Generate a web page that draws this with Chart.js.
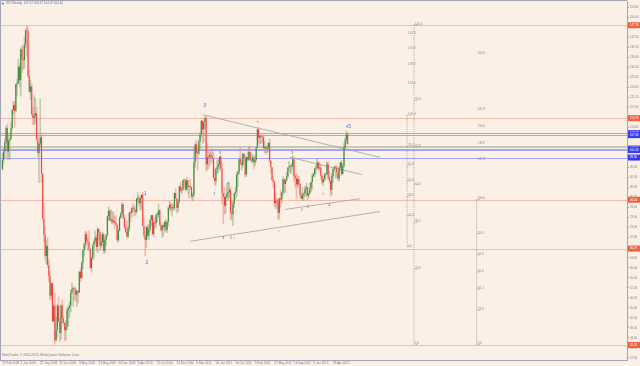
<!DOCTYPE html>
<html><head><meta charset="utf-8">
<script src="https://cdn.jsdelivr.net/npm/chart.js@4.4.1/dist/chart.umd.min.js"></script>
<style>html,body{margin:0;padding:0;background:#fbf0e5;}canvas{display:block;}</style>
</head><body>
<canvas id="c" width="640" height="366" style="width:640px;height:366px"></canvas>
<script>
// ---- Weekly WTI candles, bar 0 = week of 17 Feb 2008 ----
const opens = [
95.5,98.8,101.8,105.2,110.2,101.8,105.6,106.2,110.1,116.7,
118.5,116.3,126.0,126.3,132.2,127.4,138.5,134.9,134.6,140.2,
145.3,145.1,128.9,123.3,125.1,115.2,113.8,114.6,115.5,106.2,
101.2,104.6,106.9,94.0,77.7,71.9,64.2,67.8,61.0,57.0,
49.9,54.4,40.8,46.3,33.9,37.7,46.3,40.8,36.5,46.5,
41.7,40.2,37.5,38.9,44.8,45.5,46.3,51.1,52.4,52.5,
52.2,50.3,51.6,51.1,58.6,56.3,61.7,66.3,68.4,72.0,
69.6,69.2,66.7,59.9,63.6,68.1,69.5,70.9,67.5,73.9,
72.7,68.0,69.3,72.0,66.0,70.0,71.8,78.5,80.5,77.0,
77.4,76.4,76.7,76.1,75.5,69.9,73.4,78.1,79.4,82.8,
78.0,74.5,72.9,71.2,74.1,79.8,79.7,81.5,81.2,80.7,
80.0,84.9,84.9,83.2,85.1,86.2,75.1,71.6,70.0,74.6,
71.5,73.8,77.2,78.9,72.1,76.1,76.0,79.0,79.0,80.7,
75.4,73.5,75.2,74.6,76.5,73.7,76.5,81.6,82.7,81.3,
81.7,81.4,86.9,84.9,81.5,83.8,89.2,87.8,88.0,91.5,
91.4,88.0,91.5,89.1,89.3,89.0,85.6,86.2,97.9,104.4,
101.2,101.1,105.4,107.9,112.8,109.7,112.3,113.9,97.2,99.7,
99.5,100.6,100.2,99.3,92.3,91.2,95.4,96.2,97.2,99.9,
95.7,86.9,85.4,82.3,85.4,86.5,87.2,88.0,79.9,79.2,
83.0,86.8,87.4,93.3,94.3,99.0,97.7,96.8,101.0,99.4,
93.5,99.7,98.8,101.6,98.7,98.5,99.6,97.8,98.7,103.2,
109.8,106.7,107.4,107.1,106.9,103.0,103.3,102.8,103.1,104.9,
98.5,96.1,91.5,90.9,83.2,84.1,84.0,79.8,85.0,84.5,
87.1,91.8,90.1,91.4,92.9,96.0,96.2,96.5,96.4,99.0,
92.9,92.2,89.9,91.9,90.1,86.3,84.9,86.1,86.7,88.3,
88.9,85.9,86.7,88.7,90.8,93.1,93.6,95.6,95.9,97.8,
95.7,95.9,93.1,90.7,92.0,93.5,93.7,97.2,92.7,91.3,
88.0,93.0,95.6,96.0,96.0,94.2,92.0,96.0,97.9,93.7,
96.6,103.2,106.0,107.97];
const highs = [
101.3,103.0,106.5,111.0,111.8,108.0,106.5,112.2,117.0,119.9,
119.9,126.2,127.8,135.1,133.0,139.1,139.9,139.9,143.0,145.9,
147.3,146.5,131.2,127.6,126.1,118.0,122.0,121.0,117.8,108.0,
104.8,120.9,108.0,94.0,83.0,75.0,70.0,71.0,63.0,59.0,
55.0,54.5,47.0,51.0,42.5,47.0,49.6,42.0,46.5,48.6,
43.0,40.5,41.0,45.8,46.5,48.0,52.0,54.7,53.0,53.5,
52.9,52.0,52.0,58.8,60.0,62.3,66.5,69.0,73.2,73.0,
71.0,73.4,67.0,64.0,68.5,69.8,73.4,72.0,74.7,74.0,
73.0,72.0,72.9,72.5,71.0,72.0,78.8,82.0,81.0,81.0,
80.5,80.0,78.5,79.0,76.0,74.0,78.5,80.0,83.5,83.0,
79.0,75.5,77.0,75.0,80.0,80.5,82.0,83.2,82.5,82.0,
85.0,87.1,86.0,85.5,86.5,87.2,78.0,73.0,75.0,75.7,
75.5,77.5,79.0,79.0,76.5,78.0,79.5,80.0,83.0,81.0,
76.5,75.5,76.0,77.0,77.5,76.9,81.9,84.0,83.5,83.0,
83.0,87.0,88.6,85.0,84.5,89.5,90.8,89.0,91.6,92.0,
91.9,92.6,91.5,89.5,92.1,89.2,87.0,103.4,104.9,106.0,
103.0,106.0,108.5,113.0,113.0,112.5,114.0,114.8,104.6,102.0,
101.6,103.0,102.0,101.5,96.0,95.8,98.8,99.0,100.0,100.6,
98.0,87.0,89.0,86.5,90.5,90.0,90.5,88.9,84.0,84.0,
87.0,89.0,94.6,95.0,99.5,103.4,99.0,101.3,101.2,100.6,
100.0,101.8,103.7,103.3,101.5,100.8,100.0,100.4,103.4,110.0,
110.6,107.8,107.4,108.1,107.6,105.5,103.7,104.0,105.2,106.4,
98.5,96.1,93.0,91.5,87.0,85.0,85.0,85.0,88.0,87.2,
92.9,91.9,91.9,94.5,96.1,98.3,97.0,97.6,100.4,99.5,
93.5,94.0,93.3,93.0,90.5,87.0,89.0,87.0,89.5,89.2,
89.4,87.6,90.5,91.0,93.8,94.3,96.0,96.9,98.2,98.2,
98.0,97.0,93.5,92.0,93.9,94.0,97.8,97.9,94.8,91.4,
94.0,95.7,96.9,96.3,96.9,95.3,96.4,97.9,98.7,97.3,
104.8,106.9,109.3,108.57];
const lows = [
94.8,97.5,99.5,104.6,98.7,99.0,98.7,106.0,109.5,115.0,
110.5,116.0,121.6,126.1,125.0,121.6,130.0,131.0,131.6,139.0,
135.9,128.3,122.9,120.4,114.6,111.3,111.3,112.0,105.4,99.9,
90.5,103.5,90.5,77.0,69.0,63.0,61.3,60.0,54.7,48.2,
48.5,40.5,40.5,32.4,33.5,35.0,40.5,33.2,34.0,40.0,
39.0,33.5,34.0,37.6,38.7,42.0,44.0,50.6,46.0,48.0,
48.0,45.9,47.5,51.0,55.0,56.0,59.5,64.0,66.7,68.0,
66.0,66.0,59.6,58.3,62.7,63.0,68.5,66.0,65.3,70.0,
66.0,67.0,67.6,65.0,65.0,68.0,71.0,77.0,76.8,76.0,
75.5,76.0,74.0,75.0,69.5,69.0,73.0,77.5,79.0,77.5,
74.0,72.4,70.8,70.6,73.0,76.5,78.0,80.0,78.6,78.5,
79.5,83.5,82.0,80.5,81.0,75.0,71.0,64.2,67.2,70.5,
70.0,73.0,75.0,71.5,71.0,74.0,74.5,76.5,78.0,75.0,
73.0,70.8,71.2,73.0,72.7,72.5,75.0,80.5,80.0,78.5,
80.5,80.5,84.5,79.6,80.0,83.0,87.0,86.5,87.8,89.0,
87.5,88.0,86.5,85.0,88.0,84.5,83.9,85.5,96.0,99.0,
95.0,100.5,102.5,107.0,104.4,105.0,110.0,94.6,95.1,95.6,
96.5,98.0,97.5,92.0,89.7,89.6,94.0,94.0,95.0,95.0,
82.9,75.7,79.0,79.5,85.0,84.0,85.0,77.1,77.0,75.0,
81.5,84.5,85.5,89.2,93.5,97.0,95.0,96.0,98.0,92.5,
92.7,98.0,98.5,98.5,98.0,97.5,95.4,96.5,98.0,103.0,
104.6,104.2,104.5,104.8,102.7,101.2,100.7,101.2,101.6,97.5,
94.0,91.2,88.8,82.0,81.2,81.2,77.3,77.3,81.6,83.2,
86.0,86.6,86.9,91.0,92.3,95.0,94.0,93.6,95.2,91.0,
88.9,84.6,88.6,89.4,84.8,84.5,84.0,84.1,85.5,85.6,
84.1,84.9,86.5,87.2,88.0,92.5,92.6,94.0,95.5,94.8,
95.0,92.0,90.0,89.3,90.8,91.6,93.4,91.5,90.4,85.6,
86.1,90.5,94.6,92.1,92.3,91.2,91.1,94.6,93.0,93.5,
95.9,102.2,104.6,104.07];
const closes = [
98.8,101.8,105.2,110.2,101.8,105.6,106.2,110.1,116.7,118.5,
116.3,126.0,126.3,132.2,127.4,138.5,134.9,134.6,140.2,145.3,
145.1,128.9,123.3,125.1,115.2,113.8,114.6,115.5,106.2,101.2,
104.6,106.9,94.0,77.7,71.9,64.2,67.8,61.0,57.0,49.9,
54.4,40.8,46.3,33.9,37.7,46.3,40.8,36.5,46.5,41.7,
40.2,37.5,38.9,44.8,45.5,46.3,51.1,52.4,52.5,52.2,
50.3,51.6,51.1,58.6,56.3,61.7,66.3,68.4,72.0,69.6,
69.2,66.7,59.9,63.6,68.1,69.5,70.9,67.5,73.9,72.7,
68.0,69.3,72.0,66.0,70.0,71.8,78.5,80.5,77.0,77.4,
76.4,76.7,76.1,75.5,69.9,73.4,78.1,79.4,82.8,78.0,
74.5,72.9,71.2,74.1,79.8,79.7,81.5,81.2,80.7,80.0,
84.9,84.9,83.2,85.1,86.2,75.1,71.6,70.0,74.6,71.5,
73.8,77.2,78.9,72.1,76.1,76.0,79.0,79.0,80.7,75.4,
73.5,75.2,74.6,76.5,73.7,76.5,81.6,82.7,81.3,81.7,
81.4,86.9,84.9,81.5,83.8,89.2,87.8,88.0,91.5,91.4,
88.0,91.5,89.1,89.3,89.0,85.6,86.2,97.9,104.4,101.2,
101.1,105.4,107.9,112.8,109.7,112.3,113.9,97.2,99.7,99.5,
100.6,100.2,99.3,92.3,91.2,95.4,96.2,97.2,99.9,95.7,
86.9,85.4,82.3,85.4,86.5,87.2,88.0,79.9,79.2,83.0,
86.8,87.4,93.3,94.3,99.0,97.7,96.8,101.0,99.4,93.5,
99.7,98.8,101.6,98.7,98.5,99.6,97.8,98.7,103.2,109.8,
106.7,107.4,107.1,106.9,103.0,103.3,102.8,103.1,104.9,98.5,
96.1,91.5,90.9,83.2,84.1,84.0,79.8,85.0,84.5,87.1,
91.8,90.1,91.4,92.9,96.0,96.2,96.5,96.4,99.0,92.9,
92.2,89.9,91.9,90.1,86.3,84.9,86.1,86.7,88.3,88.9,
85.9,86.7,88.7,90.8,93.1,93.6,95.6,95.9,97.8,95.7,
95.9,93.1,90.7,92.0,93.5,93.7,97.2,92.7,91.3,88.0,
93.0,95.6,96.0,96.0,94.2,92.0,96.0,97.9,93.7,96.6,
103.2,106.0,108.0,104.44];

// ---- axis labels ----
const dateTickBars = [0,15,31,47,63,79,95,111,127,143,159,175,191,207,223,239,255,271];
const dateTickLabels = ["17 Feb 2008","1 Jun 2008","21 Sep 2008","11 Jan 2009","3 May 2009","23 Aug 2009","13 Dec 2009","4 Apr 2010","25 Jul 2010","14 Nov 2010","6 Mar 2011","26 Jun 2011","16 Oct 2011","5 Feb 2012","27 May 2012","16 Sep 2012","6 Jan 2013","28 Apr 2013"];
const priceTicks = [153.6,150.0,146.4,142.8,139.2,135.6,132.0,128.4,124.8,121.2,117.6,114.0,110.4,106.8,103.2,99.6,96.0,92.4,88.8,85.2,81.6,78.0,74.4,70.8,67.2,63.6,60.0,56.4,52.8,49.2,45.6,42.0,38.4,34.8,31.2,27.6];
const titleText = "WTI,Weekly  107.97 108.57 104.07 104.44";
const footerText = "MetaTrader, \u00A9 2001-2013, MetaQuotes Software Corp.";

// ---- horizontal levels ----
const redLevels = [147.16,113.76,84.44,66.87,32.22];
const blueLevels = [108.38,107.66,102.82,102.29,99.6];
const greyLevels = [103.83,103.33];

// ---- trend lines (bar index, price) ----
const trendStartBar = [164.0,153.8,235.7,231.6];
const trendStartPrice = [115.0,69.5,99.7,80.96];
const trendEndBar = [309.5,309.5,294.5,293.1];
const trendEndPrice = [99.7,80.2,93.5,84.8];

// ---- fibonacci tools ----
const fibBars = [337.4,331.7,388.8];
const fibLow = [32.40,67.5,32.40];
const fibHigh = [147.27,114.83,84.55];
const fibLevelsA = [0,23.6,38.2,50,61.8,76.4,100];
const fibLevelsB = [0,23.6,38.2,50,61.8,76.4,100,123.6,138.2,150,161.8];
const fibLevelsC = [0,23.6,38.2,50,61.8,76.4,100,127.2,138.2,150,161.8,200];

// ---- wave labels ----
const waveTexts = ["3","1","2","b","c","3","1","4","3","2","c","3","a","5","b","1","2","2","4","4","v5"];
const waveBars = [166,116.9,118.5,209.3,226.5,178.4,173.7,185.2,181.1,187.3,190.0,237.6,235.7,257.6,266.3,249.4,245.6,250.3,262.6,268.0,283.5];
const wavePrices = [118.2,86.7,62.0,112.3,73.1,101.3,86.5,90.4,70.8,70.8,70.8,101.3,94.9,98.5,97.8,89.8,80.6,81.8,86.5,82.5,110.8];
const waveKinds = ["major","major","major","alt","alt","minor","minor","minor","minor","minor","alt","minor","alt","minor","alt","minor","minor","minor","alt","minor","major"];

// ---- styles ----
const BG = "#fbf0e5";
const FONT = "'Liberation Sans', Arial, sans-serif";
const AXIS_TEXT = "#7c7c98";
const AXIS_LINE = "#a4a4b8";
const COL = {
  bullBody:"#2a862e", bearBody:"#f53a3a",
  bullWick:"rgba(140,170,128,0.55)", bearWick:"rgba(238,140,135,0.55)",
  red:"#f7b9ad", blue:"#a4a4f0", grey:"#c9c6bc", trend:"#a3a198", fib:"#9a9a9a",
  redBox:"#f2613f", blueBox:"#3a3aee",
  major:"#6868ee", alt:"#f07272", minor:"#666666"
};

const n = closes.length;
const bodyData = [], wickData = [], bodyColors = [], wickColors = [];
for (let i = 0; i < n; i++) {
  const up = closes[i] >= opens[i];
  bodyData.push({x:i, y:[opens[i], closes[i]]});
  wickData.push({x:i, y:[lows[i], highs[i]]});
  bodyColors.push(up ? COL.bullBody : COL.bearBody);
  wickColors.push(up ? COL.bullWick : COL.bearWick);
}

const bgPlugin = {
  id:'bg',
  beforeDraw(c){ const ctx=c.ctx; ctx.save(); ctx.fillStyle=BG; ctx.fillRect(0,0,c.width,c.height); ctx.restore(); }
};

function fibDraw(ctx, xs, ys, k, levels, drawLabels){
  const x = xs.getPixelForValue(fibBars[k]);
  const lo = fibLow[k], hi = fibHigh[k];
  if (!drawLabels) {
    ctx.strokeStyle = COL.fib; ctx.lineWidth = 0.8; ctx.setLineDash([1,1]);
    ctx.beginPath(); ctx.moveTo(x, ys.getPixelForValue(hi)); ctx.lineTo(x, ys.getPixelForValue(lo)); ctx.stroke();
    levels.forEach(l => {
      const y = ys.getPixelForValue(lo + (hi-lo)*l/100);
      ctx.beginPath(); ctx.moveTo(x, y); ctx.lineTo(x+3, y); ctx.stroke();
    });
    ctx.setLineDash([]);
  } else {
    ctx.fillStyle = "#8c8c8c"; ctx.font = "3px " + FONT; ctx.textAlign='left'; ctx.textBaseline='bottom';
    levels.forEach(l => {
      const y = ys.getPixelForValue(lo + (hi-lo)*l/100);
      ctx.fillText(l.toFixed(1), x+1, y+0.5);
    });
  }
}

const overlay = {
  id:'overlay',
  beforeDatasetsDraw(c){
    const ctx=c.ctx, a=c.chartArea, xs=c.scales.x, ys=c.scales.y;
    ctx.save();
    ctx.beginPath(); ctx.rect(a.left,a.top,a.right-a.left,a.bottom-a.top); ctx.clip();
    const hl = (p, col) => { const y=Math.round(ys.getPixelForValue(p))+0.5; ctx.strokeStyle=col; ctx.lineWidth=1; ctx.beginPath(); ctx.moveTo(a.left,y); ctx.lineTo(a.right,y); ctx.stroke(); };
    greyLevels.forEach(p=>hl(p,COL.grey));
    redLevels.forEach(p=>hl(p,COL.red));
    blueLevels.forEach(p=>hl(p,COL.blue));
    ctx.strokeStyle = COL.trend; ctx.lineWidth = 0.8;
    for (let i=0;i<trendStartBar.length;i++){
      ctx.beginPath();
      ctx.moveTo(xs.getPixelForValue(trendStartBar[i]), ys.getPixelForValue(trendStartPrice[i]));
      ctx.lineTo(xs.getPixelForValue(trendEndBar[i]), ys.getPixelForValue(trendEndPrice[i]));
      ctx.stroke();
    }
    fibDraw(ctx,xs,ys,0,fibLevelsA,false);
    fibDraw(ctx,xs,ys,1,[0,23.6,38.2,50,61.8,76.4,100],false);
    fibDraw(ctx,xs,ys,2,[0,23.6,38.2,50,61.8,76.4,100],false);
    ctx.restore();
  },
  afterDatasetsDraw(c){
    const ctx=c.ctx, xs=c.scales.x, ys=c.scales.y;
    ctx.save();
    fibDraw(ctx,xs,ys,0,fibLevelsA,true);
    fibDraw(ctx,xs,ys,1,fibLevelsB,true);
    fibDraw(ctx,xs,ys,2,fibLevelsC,true);
    ctx.textAlign='center'; ctx.textBaseline='middle';
    for (let i=0;i<waveTexts.length;i++){
      const k = waveKinds[i];
      ctx.fillStyle = COL[k];
      ctx.font = (k==='major' ? "5px " : "3.6px ") + FONT;
      ctx.fillText(waveTexts[i], xs.getPixelForValue(waveBars[i]), ys.getPixelForValue(wavePrices[i]));
    }
    ctx.restore();
  },
  afterDraw(c){
    const ctx=c.ctx, a=c.chartArea, ys=c.scales.y;
    ctx.save();
    // frame left/top
    ctx.strokeStyle = AXIS_LINE; ctx.lineWidth=1;
    ctx.beginPath(); ctx.moveTo(0.5,a.bottom); ctx.lineTo(0.5,0.5); ctx.lineTo(a.right,0.5); ctx.stroke();
    // price boxes
    ctx.font = "2.8px " + FONT; ctx.textAlign='left'; ctx.textBaseline='middle';
    const box = (p, col) => { const y=ys.getPixelForValue(p); ctx.fillStyle=col; ctx.fillRect(a.right+1, y-3, 13, 6); ctx.fillStyle='#ffffff'; ctx.fillText(p.toFixed(2), a.right+3, y); };
    redLevels.forEach(p=>box(p,COL.redBox));
    blueLevels.forEach(p=>box(p,COL.blueBox));
    // title & footer
    ctx.fillStyle = "#8a8aa0"; ctx.fillRect(2,2.5,2,2);
    ctx.fillStyle = "#707088"; ctx.font = "3px " + FONT; ctx.textBaseline='middle';
    ctx.fillText(titleText, 6, 3.6);
    ctx.font = "3.2px " + FONT; ctx.fillStyle = "#7a7a96";
    ctx.fillText(footerText, 2, 355.5);
    ctx.restore();
  }
};

new Chart(document.getElementById('c'), {
  type:'bar',
  data:{ datasets:[
    { data: bodyData, backgroundColor: bodyColors, borderWidth:0, grouped:false, categoryPercentage:1, barPercentage:0.8, minBarLength:1 },
    { data: wickData, backgroundColor: wickColors, borderWidth:0, grouped:false, categoryPercentage:1, barPercentage:1.35 }
  ]},
  options:{
    responsive:false, animation:false, devicePixelRatio:1,
    layout:{ padding:0 },
    plugins:{ legend:{display:false}, tooltip:{enabled:false} },
    scales:{
      x:{ type:'linear', min:-2, max:512, bounds:'data', offset:false, position:'bottom',
        afterBuildTicks: s => { s.ticks = dateTickBars.map(v=>({value:v})); },
        afterFit: s => { s.height = 6; },
        ticks:{ autoSkip:false, maxRotation:0, minRotation:0, align:'start', padding:0, color:AXIS_TEXT,
          font:{ size:3, family:FONT, lineHeight:1 },
          callback: v => dateTickLabels[dateTickBars.indexOf(v)] },
        grid:{ offset:false, drawOnChartArea:false, drawTicks:true, tickLength:1.5, color:AXIS_LINE },
        border:{ display:true, color:AXIS_LINE, width:1 }
      },
      y:{ type:'linear', position:'right', min:26.84, max:155.87, bounds:'data',
        afterBuildTicks: s => { s.ticks = priceTicks.map(v=>({value:v})); },
        afterFit: s => { s.width = 13; },
        ticks:{ autoSkip:false, padding:1, color:AXIS_TEXT, font:{ size:2.8, family:FONT, lineHeight:0.01 },
          callback: v => Number(v).toFixed(2) },
        grid:{ drawOnChartArea:false, drawTicks:true, tickLength:2, color:AXIS_LINE },
        border:{ display:true, color:AXIS_LINE, width:1 }
      }
    }
  },
  plugins:[bgPlugin, overlay]
});
</script>
</body></html>
